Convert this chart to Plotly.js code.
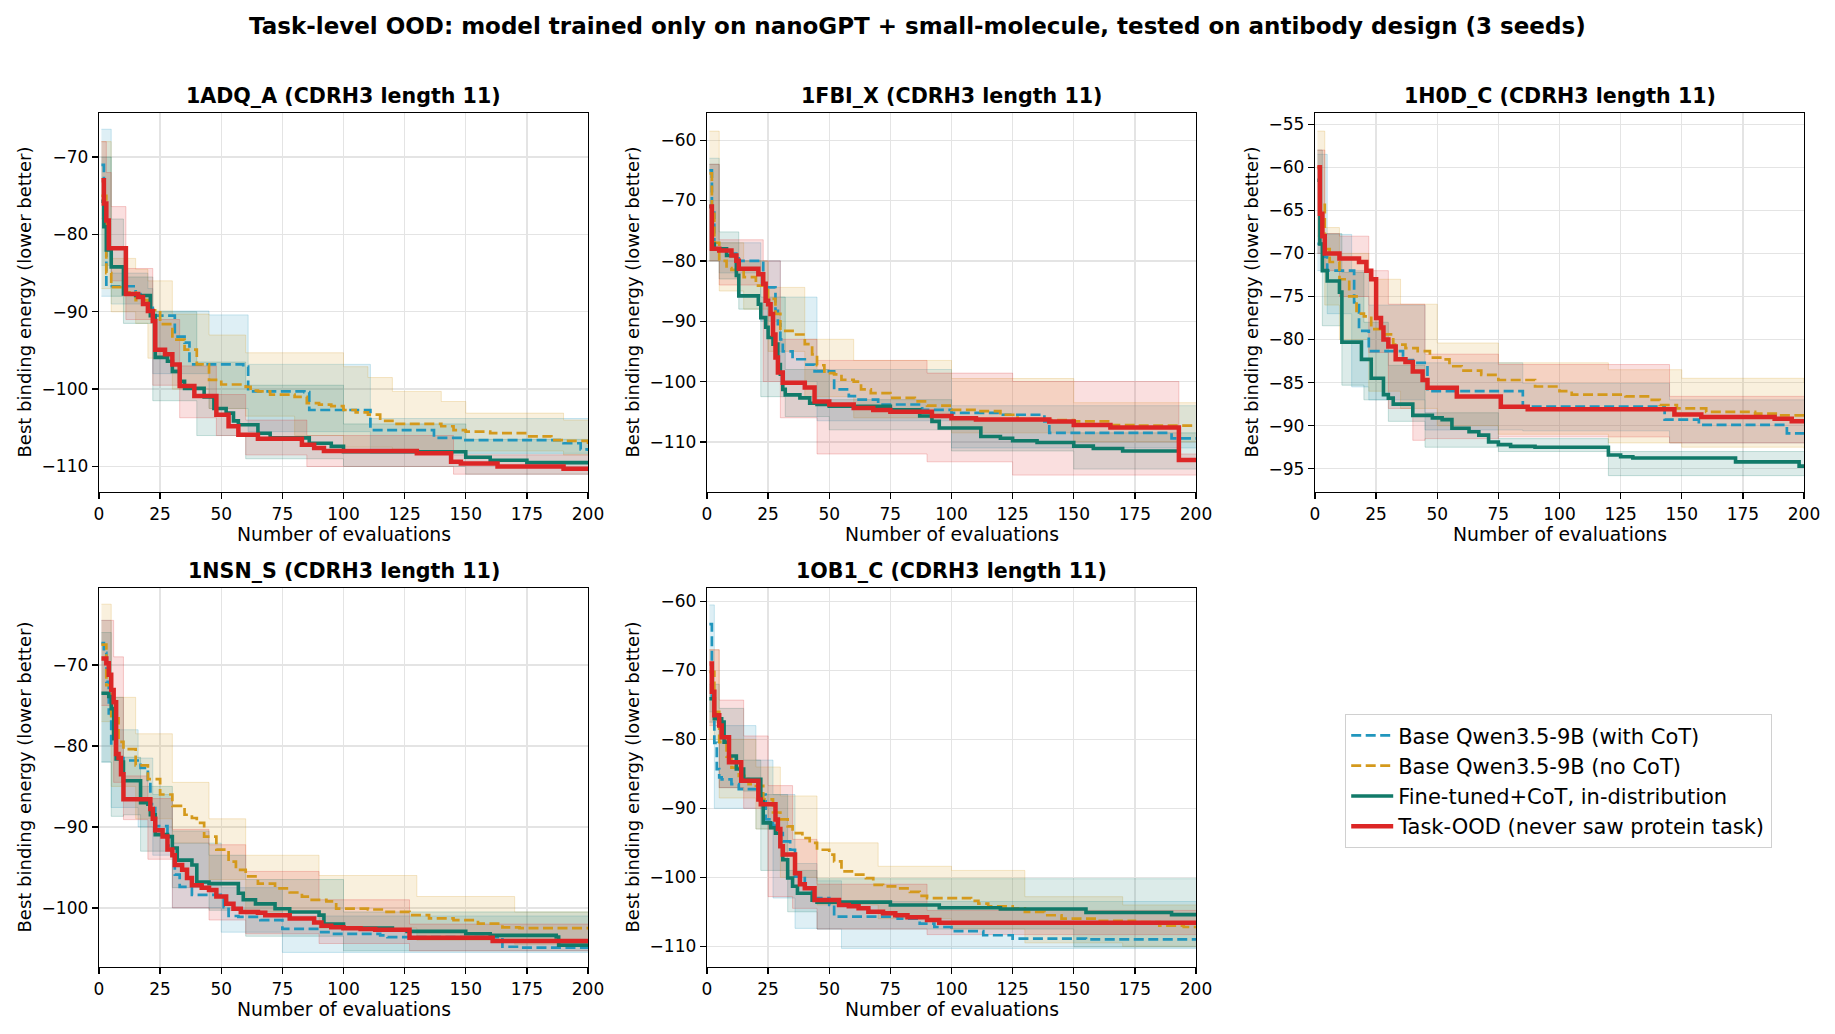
<!DOCTYPE html>
<html>
<head>
<meta charset="utf-8">
<script src="https://cdn.plot.ly/plotly-3.0.1.min.js"></script>
<style>
html,body{margin:0;padding:0;background:#fff;}
#chart{width:1835px;height:1034px;}
</style>
</head>
<body>
<div id="chart"></div>
<script>
// ---------------- DATA ----------------
const PANEL_NAMES = ['1ADQ_A', '1FBI_X', '1H0D_C', '1NSN_S', '1OB1_C'];
const SERIES_NAMES = ['Base Qwen3.5-9B (with CoT)', 'Base Qwen3.5-9B (no CoT)', 'Fine-tuned+CoT, in-distribution', 'Task-OOD (never saw protein task)'];
const X_TICKS = [0, 25, 50, 75, 100, 125, 150, 175, 200];

// Panel 1: 1ADQ_A
const P1_cot_x = [1,2,3,15,18,20,22,31,35,37,59,61,84,86,111,137,149,190,197,200];
const P1_cot_y = [-71,-79,-86.7,-87.7,-89,-89.5,-90.5,-93.2,-94,-96.8,-97.1,-100.3,-100.4,-102.7,-105.3,-106.3,-106.6,-107,-107.8,-108];
const P1_cot_bx = [1,5,20,22,45,61,111,200];
const P1_cot_lo = [-88,-89,-90,-98,-102.5,-105.5,-108.3,-108.3];
const P1_cot_hi = [-66.4,-85,-87,-89.9,-90.4,-96.8,-103.8,-103.8];

const P1_nocot_x = [1,3,5,10,15,20,25,30,35,40,45,50,60,62,65,70,80,85,90,95,100,105,110,115,120,135,140,145,150,160,175,185,190,200];
const P1_nocot_y = [-75,-85,-86.8,-87.5,-88.5,-89.8,-91.6,-93.6,-94.9,-96.8,-98.8,-99.4,-99.7,-100.2,-100.3,-100.7,-101,-101.8,-102,-102.2,-102.7,-103,-103.3,-104.1,-104.5,-104.5,-104.8,-105.3,-105.5,-105.7,-106.1,-106.6,-106.7,-107.1];
const P1_nocot_bx = [1,5,15,20,30,45,60,80,100,110,120,140,150,190,200];
const P1_nocot_lo = [-87,-90,-91.5,-96,-100,-102.5,-103.5,-106,-107.5,-107.5,-108,-108,-108,-108.5,-108.5];
const P1_nocot_hi = [-68,-83.1,-84.5,-86,-90.3,-93,-95.3,-95.3,-97.1,-98.5,-100.3,-101.6,-103.1,-104,-104];

const P1_ft_x = [1,2,3,5,10,15,21,23,28,30,33,35,43,47,52,55,57,65,70,86,95,100,150,160,175,200];
const P1_ft_y = [-75.7,-79,-82,-84.2,-87.7,-87.9,-90.5,-95.9,-96.4,-97.7,-99,-99.9,-101,-102.5,-103.1,-104.1,-104.6,-105.7,-106.3,-107,-107.4,-108.1,-108.8,-109.2,-109.5,-109.5];
const P1_ft_bx = [1,5,10,22,40,60,100,150,200];
const P1_ft_lo = [-84,-88,-91.5,-101.5,-106,-109,-110,-111,-111];
const P1_ft_hi = [-70,-78,-85.5,-90,-96.5,-99.5,-104.5,-106.5,-106.5];

const P1_ood_x = [1,2,3,4,11,16,18,20,22,23,27,30,33,39,48,53,57,65,83,88,92,130,144,148,163,190,200];
const P1_ood_y = [-73,-76,-78.2,-81.8,-87.7,-88.1,-89,-89.9,-91.2,-94.9,-95.5,-96.8,-99.6,-100.9,-103.3,-104.8,-105.9,-106.4,-107.2,-107.6,-108,-108.3,-109.4,-109.6,-110,-110.3,-110.3];
const P1_ood_bx = [1,3,5,11,22,33,48,60,85,145,200];
const P1_ood_lo = [-78,-82,-86,-91,-99.5,-103.7,-106,-108.5,-110,-111,-111];
const P1_ood_hi = [-68,-72,-76.4,-84.4,-91,-97,-100.7,-104,-106,-108.5,-108.5];

// Panel 2: 1FBI_X
const P2_cot_x = [1,2,3,10,13,23,28,29,30,31,35,40,44,52,58,62,70,88,100,120,138,140,190,200];
const P2_cot_y = [-65,-72,-78,-78.8,-80,-84.4,-88.3,-90.5,-93,-95,-96.3,-97.2,-98.3,-101.3,-102.4,-103,-103.8,-104.7,-105.2,-105.5,-106.6,-108.5,-109.4,-109.4];
const P2_cot_bx = [1,5,22,30,45,100,200];
const P2_cot_lo = [-80,-82,-90,-100,-106.5,-111,-111];
const P2_cot_hi = [-63,-77,-80,-86,-98,-104,-104];

const P2_nocot_x = [1,2,3,5,8,10,15,20,25,28,30,35,40,43,45,48,52,55,60,63,67,75,85,90,100,110,120,127,140,150,165,175,200];
const P2_nocot_y = [-65.5,-72.2,-77,-80,-81.2,-81.5,-82.7,-84.1,-86.3,-88.8,-91.6,-92.2,-93.8,-95.5,-97.3,-98.6,-98.8,-99.7,-100,-101.3,-101.9,-102.7,-103.3,-104,-104.7,-104.9,-105.5,-106.2,-106.4,-106.6,-107.2,-107.3,-107.3];
const P2_nocot_bx = [1,5,15,25,40,60,100,150,200];
const P2_nocot_lo = [-80,-85,-88,-95,-102.5,-106,-108.5,-110,-110];
const P2_nocot_hi = [-58.5,-77,-80,-84.4,-93,-96.5,-99.5,-103.5,-103.5];

const P2_ft_x = [1,2,3,8,12,13,21,22,24,25,27,29,30,31,32,38,42,45,50,75,87,92,95,112,120,125,135,150,158,170,193,200];
const P2_ft_y = [-71,-77.2,-78,-79.1,-82.4,-85.8,-87.2,-89.4,-91,-92.7,-93.8,-97.2,-98.8,-101.3,-102.2,-102.7,-103.6,-103.8,-104.1,-104.7,-105.7,-106.6,-107.7,-109.1,-109.4,-109.8,-110.1,-110.7,-111.1,-111.5,-113,-113.2];
const P2_ft_bx = [1,5,13,22,32,50,100,150,200];
const P2_ft_lo = [-80,-83,-88,-102.5,-105.8,-108,-111.5,-114.5,-114.5];
const P2_ft_hi = [-64,-75.2,-80,-86,-98,-103,-106.5,-108.5,-108.5];

const P2_ood_x = [1,2,5,10,12,13,21,23,24,25,26,27,28,29,31,40,44,50,60,68,75,92,100,110,140,150,165,193,200];
const P2_ood_y = [-71,-78,-78.3,-79.1,-80,-81.3,-82.2,-83.8,-86.6,-87.2,-88.8,-92.2,-96,-98.5,-100.2,-101,-103.3,-103.8,-104.4,-104.7,-105,-105.7,-106.1,-106.3,-106.6,-107.2,-107.6,-113,-113.3];
const P2_ood_bx = [1,5,23,30,45,90,125,193,200];
const P2_ood_lo = [-80,-84,-100,-106,-112,-113.3,-115.5,-115.5,-115.5];
const P2_ood_hi = [-64,-76.5,-80,-93,-96.5,-98.6,-100,-112,-112];

// Panel 3: 1H0D_C
const P3_cot_x = [1,4,5,16,18,22,36,40,46,85,143,157,193,200];
const P3_cot_y = [-68.9,-70.4,-72,-75.7,-79,-81.35,-82.4,-82.7,-86,-87.8,-89.3,-89.9,-90.9,-91];
const P3_cot_bx = [1,5,15,22,45,85,145,200];
const P3_cot_lo = [-72,-77,-85.5,-87,-90.5,-90.6,-92,-92];
const P3_cot_hi = [-58.5,-67.8,-72,-76,-82.7,-85.1,-87,-87];

const P3_nocot_x = [1,2,4,6,10,14,17,20,23,28,32,37,42,47,52,55,60,68,75,90,100,105,127,137,141,148,160,180,190,200];
const P3_nocot_y = [-60,-64,-69.5,-71,-73,-75,-77,-77.3,-78.8,-79.4,-80.6,-81,-81.35,-82.1,-82.3,-83.1,-83.6,-84.1,-84.7,-85.45,-86,-86.4,-86.6,-87,-87.6,-88,-88.4,-88.6,-88.8,-88.8];
const P3_nocot_bx = [1,4,10,22,35,50,75,120,150,200];
const P3_nocot_lo = [-68,-76,-80,-86,-88,-90,-91,-92,-92.5,-92.7];
const P3_nocot_hi = [-55.8,-67,-70,-73,-75.9,-80.4,-82.7,-83.5,-84.5,-85];

const P3_ft_x = [1,2,3,5,10,11,19,23,28,30,32,40,48,52,56,63,67,71,75,80,90,120,125,130,172,198,200];
const P3_ft_y = [-61.5,-68.9,-72,-73.2,-74.5,-80.3,-82.3,-84.5,-86.4,-86.8,-87.5,-88.8,-89.1,-89.3,-90.3,-90.7,-91.1,-91.9,-92.2,-92.4,-92.5,-93.4,-93.6,-93.75,-94.2,-94.7,-94.7];
const P3_ft_bx = [1,3,11,20,30,45,75,120,200];
const P3_ft_lo = [-70,-78.4,-85.3,-87,-89.5,-92.5,-93,-95.8,-95.8];
const P3_ft_hi = [-58,-67.7,-72.2,-78,-83,-88.5,-91.5,-93,-93];

const P3_ood_x = [1,2,3,4,10,18,21,23,25,27,28,30,33,37,40,44,46,58,76,87,147,158,188,195,200];
const P3_ood_y = [-60,-65.4,-68,-70,-70.6,-71,-72,-73,-77.5,-78.6,-80,-80.8,-82.3,-82.6,-83.7,-84.7,-85.6,-86.6,-87.8,-88.1,-88.7,-89,-89.2,-89.5,-89.5];
const P3_ood_bx = [1,4,10,22,30,40,45,75,145,200];
const P3_ood_lo = [-70,-72,-75,-81.5,-88,-91.7,-91.5,-91.3,-92,-92];
const P3_ood_hi = [-58,-67.7,-68,-72,-75.9,-75.9,-81.7,-82.9,-86.6,-86.6];

// Panel 4: 1NSN_S
const P4_cot_x = [1,2,3,4,5,7,10,17,20,21,23,28,30,31,33,38,51,53,57,66,75,90,95,115,118,165,172,200];
const P4_cot_y = [-67.3,-68.5,-72.1,-76,-80,-81.5,-81.8,-82.7,-84.2,-87.2,-89.9,-92.3,-93.4,-95.9,-97.4,-98.4,-99.9,-101,-101.1,-101.5,-102.6,-103,-103.2,-103.4,-103.6,-104.8,-104.9,-105];
const P4_cot_bx = [1,5,16,22,30,50,75,200];
const P4_cot_lo = [-82,-87.6,-90,-93.5,-100,-103,-105.5,-105.5];
const P4_cot_hi = [-64.5,-78,-81.5,-86,-92,-97.5,-101,-101];

const P4_nocot_x = [1,3,5,8,10,15,20,25,30,35,38,40,43,48,53,56,60,65,72,78,83,87,93,97,110,117,127,135,145,155,165,172,200];
const P4_nocot_y = [-67.5,-72.5,-76.6,-79.5,-80.4,-82.4,-84.1,-86,-87.4,-88.5,-88.9,-89.5,-91.2,-92.8,-94.3,-95.3,-96.1,-97,-97.6,-98.1,-98.6,-99,-99.2,-100.1,-100.2,-100.5,-100.9,-101.3,-101.5,-101.95,-102.4,-102.5,-102.6];
const P4_nocot_bx = [1,5,15,30,45,60,90,130,170,200];
const P4_nocot_lo = [-77,-85,-89,-92,-96.5,-100.5,-102.5,-104,-104.5,-104.5];
const P4_nocot_hi = [-62.5,-74,-78.5,-84.5,-89,-93.5,-96,-98.6,-100.5,-100.5];

const P4_ft_x = [1,4,5,6,7,9,10,17,20,21,23,28,30,32,38,40,45,57,59,64,72,78,90,92,100,120,126,150,160,187,188,200];
const P4_ft_y = [-73.5,-73.9,-75.4,-79.1,-81.6,-82,-84.3,-87,-87.2,-88.5,-90.95,-91.2,-92.6,-94.1,-94.7,-96.8,-97,-98.2,-99,-99.5,-100.1,-100.5,-100.9,-102,-102.5,-102.7,-102.9,-103.2,-103.4,-103.6,-104.6,-104.7];
const P4_ft_bx = [1,5,10,17,30,45,60,100,200];
const P4_ft_lo = [-82,-88.7,-88.5,-93,-97.5,-100.3,-103.5,-105.3,-105.3];
const P4_ft_hi = [-66,-74,-81.4,-85,-90.5,-93.5,-96.5,-100.5,-100.5];

const P4_ood_x = [1,3,4,5,6,7,8,9,10,21,22,23,26,28,30,31,34,36,38,42,45,48,52,55,58,65,68,78,88,91,95,100,107,113,127,161,200];
const P4_ood_y = [-69.2,-69.8,-71.2,-73.1,-74.6,-81,-81.5,-83.5,-86.6,-87.8,-89,-90.4,-91.2,-92.8,-93.5,-94.7,-95.3,-96.3,-97.2,-97.5,-97.8,-98.6,-99.5,-100.1,-100.5,-100.6,-100.9,-101.3,-101.8,-102.2,-102.4,-102.5,-102.6,-102.7,-103.7,-104.1,-104.2];
const P4_ood_bx = [1,6,10,20,30,45,60,90,127,200];
const P4_ood_lo = [-75,-84.5,-89.1,-94,-100,-101.5,-103.2,-104.4,-105.3,-105.3];
const P4_ood_hi = [-64.5,-69,-83.7,-86.5,-90.3,-92.2,-95.5,-99,-102,-102];

// Panel 5: 1OB1_C
const P5_cot_x = [1,2,3,4,5,6,10,13,21,24,27,30,31,34,36,40,43,50,52,78,87,93,100,113,125,155,200];
const P5_cot_y = [-63.3,-74.1,-80.5,-84.3,-85.5,-85.8,-86.5,-87.2,-88,-91.6,-92.5,-93.6,-94.8,-96,-99.9,-101.6,-103,-104,-105.7,-106,-106.7,-107.2,-107.8,-108.4,-108.9,-109,-109.1];
const P5_cot_bx = [1,3,20,27,36,45,55,200];
const P5_cot_lo = [-76,-90,-93,-103,-107.4,-107.5,-110.3,-110.3];
const P5_cot_hi = [-60.5,-78,-83,-88,-98,-100.5,-103.5,-103.5];

const P5_nocot_x = [1,3,5,8,10,13,17,20,23,27,30,33,35,39,42,45,50,52,55,60,65,68,72,78,83,87,90,100,108,111,115,125,130,138,145,160,175,185,195,200];
const P5_nocot_y = [-70.2,-76,-80.4,-82.5,-84.1,-85.3,-86.5,-86.75,-88.7,-90.6,-91.6,-92.6,-93.6,-94.3,-95,-96,-96.7,-97.7,-99.15,-99.6,-100.1,-101.1,-101.3,-101.6,-102.1,-102.7,-103,-103,-103.4,-103.8,-104.2,-104.5,-105,-105.5,-106,-106.3,-106.5,-107,-107.2,-107.2];
const P5_nocot_bx = [1,5,20,30,45,70,100,130,170,200];
const P5_nocot_lo = [-80,-88.5,-93,-100,-104,-106,-107.5,-109.5,-110,-110];
const P5_nocot_hi = [-67,-80,-84,-88.2,-95,-98.4,-99,-102.8,-104,-104];

const P5_ft_x = [1,3,6,7,9,12,15,22,23,26,28,30,31,33,35,37,43,45,75,95,120,155,190,200];
const P5_ft_y = [-74.1,-77,-77.5,-80.4,-82.4,-84.3,-85.8,-89,-92.1,-92.8,-93.6,-95.5,-97.45,-100.1,-101.3,-102.3,-103.3,-103.6,-104,-104.4,-104.6,-105.1,-105.4,-105.5];
const P5_ft_bx = [1,5,15,22,33,45,150,200];
const P5_ft_lo = [-77.5,-87,-87.5,-99,-105,-107.5,-110.1,-110.1];
const P5_ft_hi = [-72,-75.5,-83,-88,-99,-100.2,-100.2,-100.2];

const P5_ood_x = [1,2,3,5,6,9,14,21,22,28,29,30,31,36,38,40,44,54,58,62,66,72,77,82,90,95,200];
const P5_ood_y = [-69,-73.1,-76.5,-78,-79.7,-83.3,-86,-88.7,-89.4,-91.6,-93,-95.5,-96.7,-99.4,-101,-101.6,-103.3,-104,-104.2,-104.5,-105,-105.2,-105.5,-105.8,-106.2,-106.6,-106.7];
const P5_ood_bx = [1,5,15,25,35,45,90,200];
const P5_ood_lo = [-78,-87,-90,-102.8,-104.5,-107.5,-108.3,-108.3];
const P5_ood_hi = [-67,-74.3,-79.5,-86.7,-94.5,-101,-104.8,-104.8];

const Y_RANGES = [[-113.3, -64.3], [-118.3, -55.5], [-97.7, -53.7], [-107.3, -60.5], [-113.0, -58.05]];
const Y_DTICK = [10, 10, 5, 10, 10];

// ---------------- tables built from the arrays ----------------
const TABLE = [
  [ {x:P1_cot_x,y:P1_cot_y,bx:P1_cot_bx,lo:P1_cot_lo,hi:P1_cot_hi},
    {x:P1_nocot_x,y:P1_nocot_y,bx:P1_nocot_bx,lo:P1_nocot_lo,hi:P1_nocot_hi},
    {x:P1_ft_x,y:P1_ft_y,bx:P1_ft_bx,lo:P1_ft_lo,hi:P1_ft_hi},
    {x:P1_ood_x,y:P1_ood_y,bx:P1_ood_bx,lo:P1_ood_lo,hi:P1_ood_hi} ],
  [ {x:P2_cot_x,y:P2_cot_y,bx:P2_cot_bx,lo:P2_cot_lo,hi:P2_cot_hi},
    {x:P2_nocot_x,y:P2_nocot_y,bx:P2_nocot_bx,lo:P2_nocot_lo,hi:P2_nocot_hi},
    {x:P2_ft_x,y:P2_ft_y,bx:P2_ft_bx,lo:P2_ft_lo,hi:P2_ft_hi},
    {x:P2_ood_x,y:P2_ood_y,bx:P2_ood_bx,lo:P2_ood_lo,hi:P2_ood_hi} ],
  [ {x:P3_cot_x,y:P3_cot_y,bx:P3_cot_bx,lo:P3_cot_lo,hi:P3_cot_hi},
    {x:P3_nocot_x,y:P3_nocot_y,bx:P3_nocot_bx,lo:P3_nocot_lo,hi:P3_nocot_hi},
    {x:P3_ft_x,y:P3_ft_y,bx:P3_ft_bx,lo:P3_ft_lo,hi:P3_ft_hi},
    {x:P3_ood_x,y:P3_ood_y,bx:P3_ood_bx,lo:P3_ood_lo,hi:P3_ood_hi} ],
  [ {x:P4_cot_x,y:P4_cot_y,bx:P4_cot_bx,lo:P4_cot_lo,hi:P4_cot_hi},
    {x:P4_nocot_x,y:P4_nocot_y,bx:P4_nocot_bx,lo:P4_nocot_lo,hi:P4_nocot_hi},
    {x:P4_ft_x,y:P4_ft_y,bx:P4_ft_bx,lo:P4_ft_lo,hi:P4_ft_hi},
    {x:P4_ood_x,y:P4_ood_y,bx:P4_ood_bx,lo:P4_ood_lo,hi:P4_ood_hi} ],
  [ {x:P5_cot_x,y:P5_cot_y,bx:P5_cot_bx,lo:P5_cot_lo,hi:P5_cot_hi},
    {x:P5_nocot_x,y:P5_nocot_y,bx:P5_nocot_bx,lo:P5_nocot_lo,hi:P5_nocot_hi},
    {x:P5_ft_x,y:P5_ft_y,bx:P5_ft_bx,lo:P5_ft_lo,hi:P5_ft_hi},
    {x:P5_ood_x,y:P5_ood_y,bx:P5_ood_bx,lo:P5_ood_lo,hi:P5_ood_hi} ]
];

// ---------------- styles ----------------
const STYLE = [
  {color:'#2196bd', rgb:'33,150,189',  width:2.7, dash:'10px,4.5px'},
  {color:'#d4991c', rgb:'212,153,28',  width:2.7, dash:'10px,4.5px'},
  {color:'#117a69', rgb:'17,122,105',  width:3.6, dash:'solid'},
  {color:'#dc2626', rgb:'220,38,38',   width:4.5, dash:'solid'}
];
const W = 1835, H = 1034;
const XDOM = [[99,588],[707,1196],[1315,1804],[99,588],[707,1196]];
const YDOM = [[113,492],[113,492],[113,492],[588,967],[588,967]];
const YLAB_SHIFT = [-75,-75,-64,-75,-75];
const XLAB_SHIFT = [-42,-42,-42,-42,-42];
const FONT = 'DejaVu Sans, Liberation Sans, sans-serif';

const traces = [];
const layout = {
  width: W, height: H, autosize: false,
  margin: {l:0, r:0, t:0, b:0},
  paper_bgcolor: '#ffffff', plot_bgcolor: '#ffffff',
  font: {family: FONT, color: '#000000', size: 16},
  showlegend: true,
  legend: {
    x: 1345 / W, y: 1 - 714 / H, xanchor: 'left', yanchor: 'top',
    bgcolor: '#ffffff', bordercolor: '#d0d0d0', borderwidth: 1.2,
    font: {family: FONT, size: 21, color: '#000000'},
    itemwidth: 42, tracegroupgap: 0
  },
  annotations: []
};

for (let p = 0; p < 5; p++) {
  const xa = p === 0 ? 'x' : 'x' + (p + 1);
  const ya = p === 0 ? 'y' : 'y' + (p + 1);
  const xKey = p === 0 ? 'xaxis' : 'xaxis' + (p + 1);
  const yKey = p === 0 ? 'yaxis' : 'yaxis' + (p + 1);
  const axCommon = {
    showline: true, mirror: true, linecolor: '#000000', linewidth: 1.3,
    ticks: 'outside', ticklen: 6, tickwidth: 1.3, tickcolor: '#000000',
    showgrid: true, gridcolor: '#e4e4e4', gridwidth: 1.3, zeroline: false,
    tickfont: {family: FONT, size: 17, color: '#000000'}, fixedrange: true
  };
  layout[xKey] = Object.assign({}, axCommon, {
    domain: [XDOM[p][0] / W, XDOM[p][1] / W], anchor: ya,
    range: [0, 200], tickmode: 'array', tickvals: X_TICKS, ticktext: X_TICKS.map(String)
  });
  layout[yKey] = Object.assign({}, axCommon, {
    domain: [1 - YDOM[p][1] / H, 1 - YDOM[p][0] / H], anchor: xa,
    range: Y_RANGES[p], tickmode: 'linear', tick0: 0, dtick: Y_DTICK[p]
  });

  // bands first
  for (let s = 0; s < 4; s++) {
    const d = TABLE[p][s], st = STYLE[s];
    traces.push({
      type: 'scatter', mode: 'lines', x: d.bx, y: d.lo, xaxis: xa, yaxis: ya,
      line: {shape: 'hv', width: 1, color: 'rgba(' + st.rgb + ',0.22)'},
      showlegend: false, hoverinfo: 'skip'
    });
    traces.push({
      type: 'scatter', mode: 'lines', x: d.bx, y: d.hi, xaxis: xa, yaxis: ya,
      line: {shape: 'hv', width: 1, color: 'rgba(' + st.rgb + ',0.22)'},
      fill: 'tonexty', fillcolor: 'rgba(' + st.rgb + ',0.15)',
      showlegend: false, hoverinfo: 'skip'
    });
  }
  // lines
  for (let s = 0; s < 4; s++) {
    const d = TABLE[p][s], st = STYLE[s];
    traces.push({
      type: 'scatter', mode: 'lines', x: d.x, y: d.y, xaxis: xa, yaxis: ya,
      name: SERIES_NAMES[s],
      line: {shape: 'hv', width: st.width, color: st.color, dash: st.dash},
      showlegend: p === 0, legendgroup: 's' + s
    });
  }

  const cx = (XDOM[p][0] + XDOM[p][1]) / 2 / W;
  layout.annotations.push({
    text: '<b>' + PANEL_NAMES[p] + ' (CDRH3 length 11)</b>',
    xref: 'paper', yref: 'paper', x: cx, y: 1 - YDOM[p][0] / H, yshift: 17,
    xanchor: 'center', yanchor: 'middle', showarrow: false,
    font: {family: FONT, size: 20.6, color: '#000000'}
  });
  layout.annotations.push({
    text: 'Number of evaluations',
    xref: 'paper', yref: 'paper', x: cx, y: 1 - YDOM[p][1] / H, yshift: XLAB_SHIFT[p],
    xanchor: 'center', yanchor: 'middle', showarrow: false,
    font: {family: FONT, size: 18.8, color: '#000000'}
  });
  layout.annotations.push({
    text: 'Best binding energy (lower better)',
    xref: 'paper', yref: 'paper', x: XDOM[p][0] / W, xshift: YLAB_SHIFT[p],
    y: 1 - (YDOM[p][0] + YDOM[p][1]) / 2 / H,
    xanchor: 'center', yanchor: 'middle', textangle: -90, showarrow: false,
    font: {family: FONT, size: 18, color: '#000000'}
  });
}

layout.annotations.push({
  text: '<b>Task-level OOD: model trained only on nanoGPT + small-molecule, tested on antibody design (3 seeds)</b>',
  xref: 'paper', yref: 'paper', x: 0.5, y: 1 - 26 / H,
  xanchor: 'center', yanchor: 'middle', showarrow: false,
  font: {family: FONT, size: 23, color: '#000000'}
});

Plotly.newPlot('chart', traces, layout, {displayModeBar: false, staticPlot: true});
</script>
</body>
</html>
